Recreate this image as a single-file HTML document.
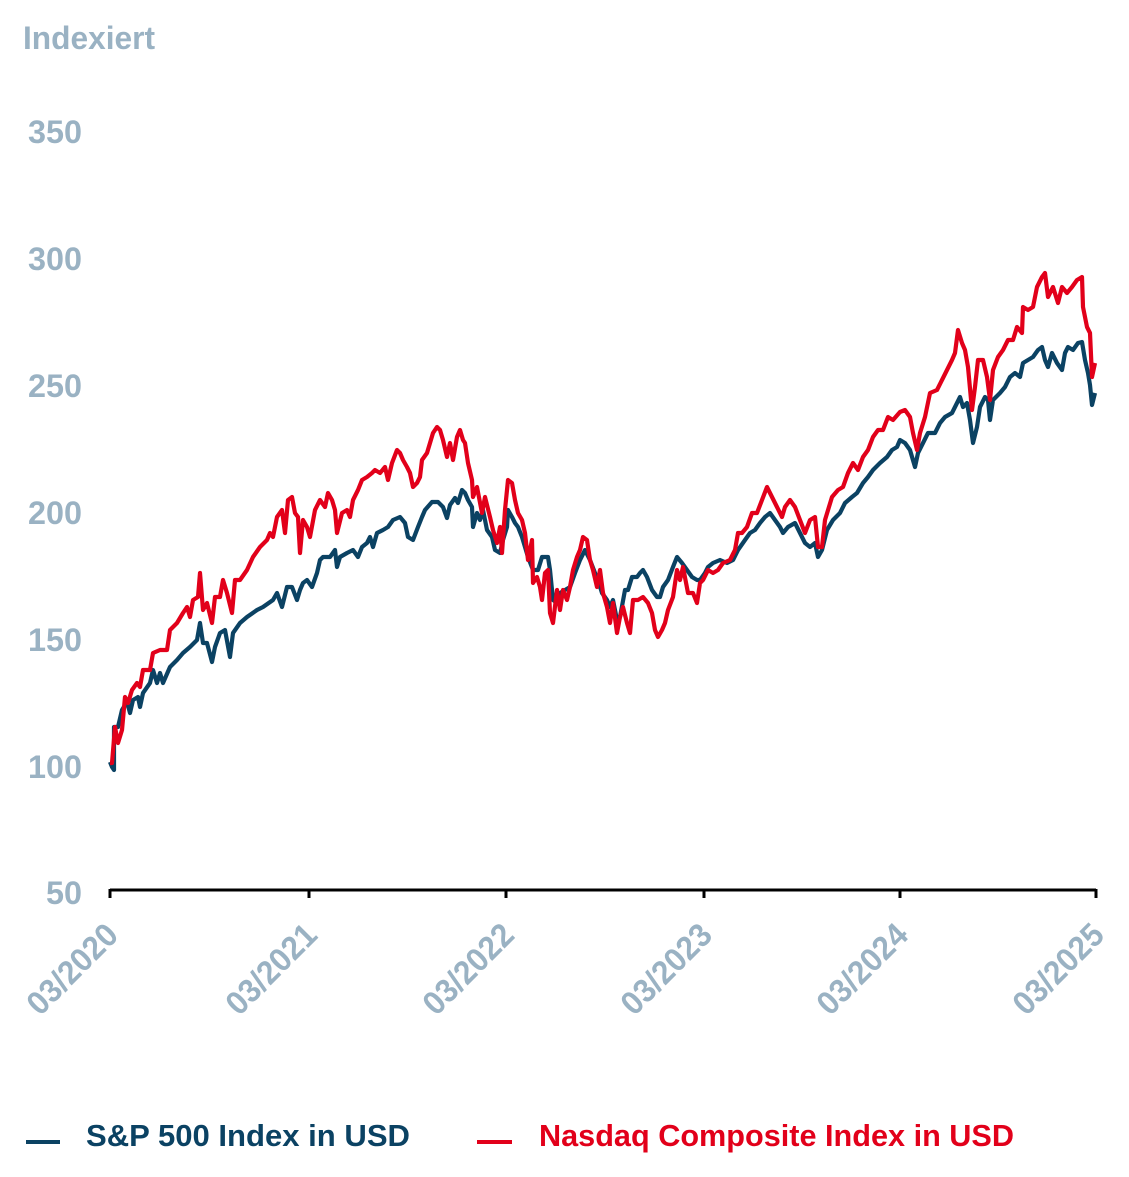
<!DOCTYPE html>
<html>
<head>
<meta charset="utf-8">
<style>
html,body{margin:0;padding:0;background:#fff;}
svg{display:block;}
text{font-family:"Liberation Sans",sans-serif;font-weight:bold;}
</style>
</head>
<body>
<svg width="1129" height="1177" viewBox="0 0 1129 1177" xmlns="http://www.w3.org/2000/svg">
<rect width="1129" height="1177" fill="#fff"/>
<g fill="#9ab2c3" font-size="32">
<text x="23" y="49" textLength="132" lengthAdjust="spacingAndGlyphs">Indexiert</text>
<text x="82" y="143" text-anchor="end" textLength="54" lengthAdjust="spacingAndGlyphs">350</text>
<text x="82" y="270" text-anchor="end" textLength="54" lengthAdjust="spacingAndGlyphs">300</text>
<text x="82" y="397" text-anchor="end" textLength="54" lengthAdjust="spacingAndGlyphs">250</text>
<text x="82" y="524" text-anchor="end" textLength="54" lengthAdjust="spacingAndGlyphs">200</text>
<text x="82" y="651" text-anchor="end" textLength="54" lengthAdjust="spacingAndGlyphs">150</text>
<text x="82" y="778" text-anchor="end" textLength="54" lengthAdjust="spacingAndGlyphs">100</text>
<text x="82" y="904" text-anchor="end" textLength="36" lengthAdjust="spacingAndGlyphs">50</text>
</g>
<g fill="#9ab2c3" font-size="33">
<text transform="translate(120,937) rotate(-45)" text-anchor="end" textLength="113" lengthAdjust="spacingAndGlyphs">03/2020</text>
<text transform="translate(319,937) rotate(-45)" text-anchor="end" textLength="113" lengthAdjust="spacingAndGlyphs">03/2021</text>
<text transform="translate(516,937) rotate(-45)" text-anchor="end" textLength="113" lengthAdjust="spacingAndGlyphs">03/2022</text>
<text transform="translate(714,937) rotate(-45)" text-anchor="end" textLength="113" lengthAdjust="spacingAndGlyphs">03/2023</text>
<text transform="translate(910,937) rotate(-45)" text-anchor="end" textLength="113" lengthAdjust="spacingAndGlyphs">03/2024</text>
<text transform="translate(1106,937) rotate(-45)" text-anchor="end" textLength="113" lengthAdjust="spacingAndGlyphs">03/2025</text>
</g>
<g stroke="#000" stroke-width="3" fill="none">
<line x1="110" y1="890" x2="1096" y2="890"/>
<line x1="110" y1="889" x2="110" y2="898"/>
<line x1="309" y1="889" x2="309" y2="898"/>
<line x1="506" y1="889" x2="506" y2="898"/>
<line x1="704" y1="889" x2="704" y2="898"/>
<line x1="900" y1="889" x2="900" y2="898"/>
<line x1="1096" y1="889" x2="1096" y2="898"/>
</g>
<polyline fill="none" stroke="#0b4263" stroke-width="4.2" stroke-linejoin="round" points="110,762 112,767 114,770 114,727 118,727 122,710 127,702 130,713 133,700 138,697 140,707 143,693 150,683 153,670 157,683 160,673 163,683 170,667 177,660 183,653 190,647 197,640 200,623 203,643 207,643 212,662 215,647 220,633 225,630 230,657 233,633 240,623 247,617 257,610 263,607 273,600 277,593 282,607 287,587 292,587 297,600 300,590 303,583 307,580 312,587 317,573 320,560 323,557 330,557 335,550 337,567 340,557 347,553 353,550 358,557 362,547 367,543 370,537 373,547 377,533 383,530 388,527 393,520 400,517 405,523 408,537 413,540 418,527 422,517 425,510 432,502 438,502 443,507 447,518 450,505 455,498 458,503 462,490 465,493 468,500 472,507 473,527 477,513 480,520 483,510 487,530 492,537 495,550 500,553 503,540 507,527 508,510 512,517 515,523 518,527 522,537 525,547 528,557 533,570 538,570 542,557 545,557 548,557 550,570 553,600 557,603 560,593 565,590 570,587 575,573 580,560 585,550 590,560 595,573 598,580 602,593 607,600 610,607 613,600 617,620 620,617 625,590 628,590 632,577 637,577 640,573 643,570 647,577 652,590 657,597 660,597 663,587 668,580 673,567 677,557 682,563 687,570 692,577 697,580 700,580 705,573 708,567 713,563 720,560 727,563 733,560 738,550 745,540 750,533 755,530 760,523 765,517 770,513 775,520 780,527 783,533 788,527 795,523 800,533 805,543 810,547 815,543 818,557 822,550 827,530 833,520 840,513 845,503 852,497 857,493 863,483 868,477 873,470 880,463 887,457 892,450 897,447 900,440 905,443 910,450 915,467 918,453 923,443 928,433 935,433 940,423 945,417 952,413 957,403 960,397 963,407 967,403 970,420 973,443 977,427 980,407 985,397 988,400 990,420 993,400 1000,393 1005,387 1010,377 1015,373 1020,377 1023,363 1028,360 1033,357 1038,350 1042,347 1045,360 1048,367 1052,353 1057,363 1062,370 1065,353 1068,347 1073,350 1078,343 1082,342 1085,360 1088,373 1090,385 1092,405 1095,393"/>
<polyline fill="none" stroke="#e2001a" stroke-width="4.2" stroke-linejoin="round" points="110,763 112,763 115,727 118,743 122,730 125,697 128,703 132,690 137,683 140,687 143,670 150,670 153,653 160,650 167,650 170,630 177,623 183,613 187,607 190,617 193,600 198,597 200,573 203,610 207,603 212,623 215,597 220,597 223,580 227,593 232,613 235,580 240,580 247,570 253,557 260,547 267,540 270,533 273,537 277,517 282,510 285,533 288,500 292,497 295,513 298,517 300,553 303,520 307,527 310,537 315,510 320,500 325,507 328,493 332,500 335,510 337,533 342,513 347,510 350,517 353,500 358,490 362,480 367,477 372,473 375,470 380,473 385,467 388,480 392,463 397,450 400,453 403,460 407,467 410,473 413,487 417,483 420,477 422,460 427,453 430,443 433,433 437,427 440,430 443,440 447,457 450,443 453,460 457,437 460,430 463,440 465,443 468,463 472,480 473,497 477,487 482,513 485,497 490,517 493,530 497,543 500,527 502,553 505,510 508,480 512,483 515,500 518,513 522,520 525,533 528,560 532,540 533,583 537,577 540,587 542,600 545,573 548,570 550,613 553,623 557,590 560,610 563,590 567,600 570,587 573,570 577,557 580,550 583,537 587,540 590,560 593,570 597,587 600,570 603,593 607,607 610,623 613,603 617,633 620,617 623,607 627,623 630,633 633,600 638,600 643,597 648,603 652,613 655,630 658,637 662,630 665,623 668,610 673,597 677,570 680,580 683,567 688,593 693,593 697,603 700,583 703,580 708,570 713,573 718,570 723,563 730,560 735,550 738,533 742,533 747,527 752,513 757,513 762,500 767,487 772,497 777,507 782,517 785,507 790,500 795,507 800,520 805,533 810,520 815,517 818,547 822,547 825,520 832,497 838,490 843,487 848,473 853,463 858,470 863,457 868,450 873,437 878,430 883,430 888,417 893,420 900,412 905,410 910,417 913,433 917,450 920,433 925,417 930,393 937,390 942,380 947,370 952,360 955,353 958,330 962,343 965,350 968,367 972,410 975,387 978,360 983,360 987,377 990,400 993,370 998,357 1003,350 1008,340 1013,340 1017,327 1022,333 1023,307 1028,310 1033,307 1037,287 1042,277 1045,273 1048,297 1053,287 1058,303 1062,287 1067,293 1072,287 1077,280 1082,277 1083,307 1087,327 1090,333 1092,377 1095,363"/>
<rect x="26" y="1140" width="34" height="4" fill="#0b4263"/>
<text x="86" y="1146" font-size="31" fill="#0b4263" textLength="324" lengthAdjust="spacingAndGlyphs">S&amp;P 500 Index in USD</text>
<rect x="477" y="1140" width="35" height="4" fill="#e2001a"/>
<text x="539" y="1146" font-size="31" fill="#e2001a" textLength="475" lengthAdjust="spacingAndGlyphs">Nasdaq Composite Index in USD</text>
</svg>
</body>
</html>
